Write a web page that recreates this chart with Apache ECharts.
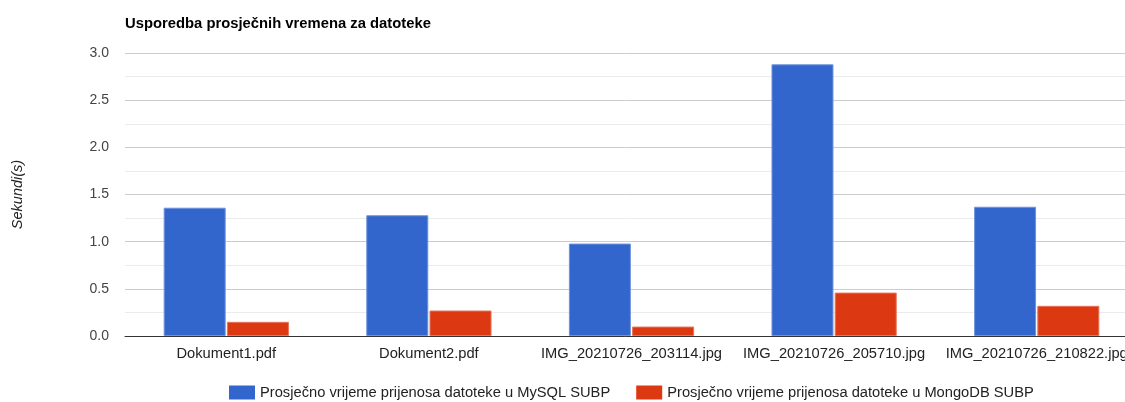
<!DOCTYPE html>
<html>
<head>
<meta charset="utf-8">
<script src="https://cdn.jsdelivr.net/npm/echarts@6/dist/echarts.min.js"></script>
<style>
  html, body { margin: 0; padding: 0; background: #fff; }
  #chart { width: 1125px; height: 402px; }
</style>
</head>
<body>
<div id="chart"></div>
<script>
// podaci
const categories = ['Dokument1.pdf', 'Dokument2.pdf', 'IMG_20210726_203114.jpg', 'IMG_20210726_205710.jpg', 'IMG_20210726_210822.jpg'];
const mysqlTimes = [1.36, 1.28, 0.98, 2.88, 1.37];
const mongoTimes = [0.15, 0.27, 0.10, 0.46, 0.32];
const yTicks = [0, 0.5, 1, 1.5, 2, 2.5, 3];

const fontFamily = '"Liberation Sans", Arial, sans-serif';
const chart = echarts.init(document.getElementById('chart'));

chart.setOption({
  animation: false,
  textStyle: { fontFamily: fontFamily },
  title: {
    text: 'Usporedba prosječnih vremena za datoteke',
    left: 120,
    top: 11,
    textStyle: { fontSize: 14.8, fontWeight: 'bold', color: '#000', fontFamily: fontFamily }
  },
  legend: {
    left: 224,
    top: 380,
    itemWidth: 26,
    itemHeight: 14,
    itemGap: 26,
    icon: 'rect',
    itemStyle: { borderWidth: 0 },
    textStyle: { fontSize: 14.7, color: '#222', fontFamily: fontFamily }
  },
  grid: { left: 125, top: 53, width: 1013, height: 283, outerBoundsMode: 'none' },
  xAxis: {
    type: 'category',
    data: categories,
    axisTick: { show: false },
    axisLine: { lineStyle: { color: '#333', width: 1 } },
    axisLabel: { fontSize: 14.7, color: '#222', margin: 10, interval: 0, hideOverlap: false }
  },
  yAxis: {
    type: 'value',
    min: yTicks[0],
    max: yTicks[yTicks.length - 1],
    interval: 0.5,
    name: 'Sekundi(s)',
    nameLocation: 'middle',
    nameGap: 100,
    nameRotate: 90,
    nameTextStyle: { fontSize: 14.5, fontStyle: 'italic', color: '#222' },
    axisLabel: {
      fontSize: 14,
      color: '#444',
      margin: 16,
      formatter: v => v.toFixed(1)
    },
    splitLine: { lineStyle: { color: '#cccccc' } },
    minorTick: { show: false, splitNumber: 2 },
    minorSplitLine: { show: true, lineStyle: { color: '#ebebeb' } }
  },
  series: [
    {
      name: 'Prosječno vrijeme prijenosa datoteke u MySQL SUBP',
      type: 'bar',
      data: mysqlTimes,
      barWidth: 62,
      barGap: '2%',
      itemStyle: { color: '#3366cc', borderColor: '#6f93dc', borderWidth: 1 }
    },
    {
      name: 'Prosječno vrijeme prijenosa datoteke u MongoDB SUBP',
      type: 'bar',
      data: mongoTimes,
      barWidth: 62,
      barGap: '2%',
      itemStyle: { color: '#dc3912', borderColor: '#e8735a', borderWidth: 1 }
    }
  ]
});
</script>
</body>
</html>
